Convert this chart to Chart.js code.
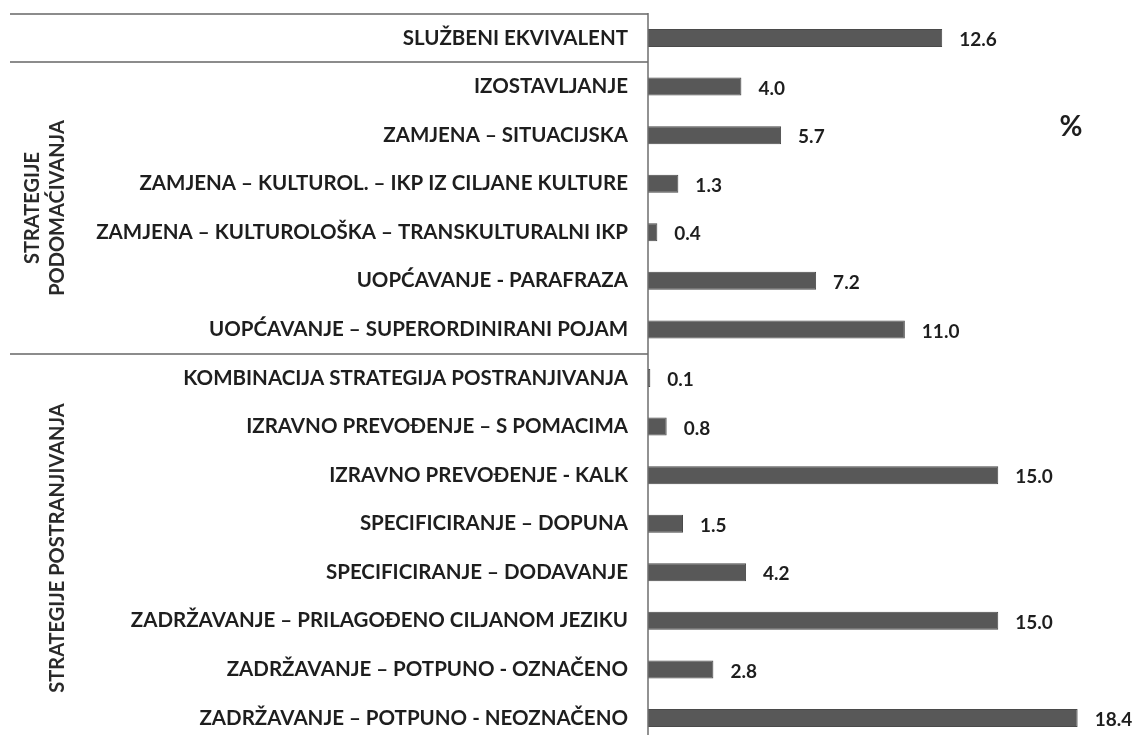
<!DOCTYPE html>
<html>
<head>
<meta charset="utf-8">
<script src="https://cdn.jsdelivr.net/npm/chart.js@4.4.1/dist/chart.umd.min.js"></script>
<style>
  html, body { margin: 0; padding: 0; background: #fff; }
  #wrap { width: 1137px; height: 735px; position: relative; }
</style>
</head>
<body>
<div id="wrap"><canvas id="stratChart"></canvas></div>
<script>
const categories = [
    'SLUŽBENI EKVIVALENT',
    'IZOSTAVLJANJE',
    'ZAMJENA – SITUACIJSKA',
    'ZAMJENA – KULTUROL. – IKP IZ CILJANE KULTURE',
    'ZAMJENA – KULTUROLOŠKA – TRANSKULTURALNI IKP',
    'UOPĆAVANJE - PARAFRAZA',
    'UOPĆAVANJE – SUPERORDINIRANI POJAM',
    'KOMBINACIJA STRATEGIJA POSTRANJIVANJA',
    'IZRAVNO PREVOĐENJE – S POMACIMA',
    'IZRAVNO PREVOĐENJE - KALK',
    'SPECIFICIRANJE – DOPUNA',
    'SPECIFICIRANJE – DODAVANJE',
    'ZADRŽAVANJE – PRILAGOĐENO CILJANOM JEZIKU',
    'ZADRŽAVANJE – POTPUNO - OZNAČENO',
    'ZADRŽAVANJE – POTPUNO - NEOZNAČENO'
];
const percentages = [12.6, 4.0, 5.7, 1.3, 0.4, 7.2, 11.0, 0.1, 0.8, 15.0, 1.5, 4.2, 15.0, 2.8, 18.4];

// groups: first/last category index, label lines
const groupNames = [
    { from: 1, to: 6, lines: ['STRATEGIJE', 'PODOMAĆIVANJA'] },
    { from: 7, to: 14, lines: ['STRATEGIJE POSTRANJIVANJA'] }
];
const unitLabel = '%';

const FONT = 'Lato, "Open Sans", sans-serif';

const decorations = {
    id: 'decorations',
    afterDatasetsDraw(chart) {
        const ctx = chart.ctx;
        const y = chart.scales.y;
        const area = chart.chartArea;
        const step = y.getPixelForValue(1) - y.getPixelForValue(0);
        const edge = i => y.getPixelForValue(i) - step / 2;

        ctx.save();
        // separator lines
        ctx.strokeStyle = '#8c8c8c';
        ctx.lineWidth = 2;
        [0, 1, 7].forEach(i => {
            const py = Math.round(edge(i));
            ctx.beginPath();
            ctx.moveTo(10, py);
            ctx.lineTo(area.left, py);
            ctx.stroke();
        });
        // vertical axis line
        ctx.strokeStyle = '#6e6e6e';
        ctx.lineWidth = 1.5;
        ctx.beginPath();
        ctx.moveTo(area.left, Math.round(edge(0)) - 1);
        ctx.lineTo(area.left, chart.height);
        ctx.stroke();

        // value labels
        ctx.fillStyle = '#1e1e1e';
        ctx.font = 'bold 19px ' + FONT;
        ctx.textBaseline = 'middle';
        ctx.textAlign = 'left';
        chart.getDatasetMeta(0).data.forEach((bar, i) => {
            ctx.fillText(percentages[i].toFixed(1), bar.x + 17, bar.y + 2);
        });

        // group labels, rotated
        ctx.fillStyle = '#2a2a2a';
        ctx.font = 'bold 20px ' + FONT;
        ctx.textAlign = 'center';
        groupNames.forEach(g => {
            const cy = (edge(g.from) + edge(g.to + 1)) / 2;
            const n = g.lines.length;
            g.lines.forEach((line, k) => {
                const cx = 58 - (n - 1 - k) * 25;
                ctx.save();
                ctx.translate(cx, cy);
                ctx.rotate(-Math.PI / 2);
                ctx.fillText(line, 0, 0);
                ctx.restore();
            });
        });

        // unit
        ctx.fillStyle = '#1e1e1e';
        ctx.font = 'bold 28px ' + FONT;
        ctx.fillText(unitLabel, 1071, 127);
        ctx.restore();
    }
};

const ctx = document.getElementById('stratChart').getContext('2d');
new Chart(ctx, {
    type: 'bar',
    data: {
        labels: categories,
        datasets: [{
            data: percentages,
            backgroundColor: '#585858',
            borderColor: '#4a4a4a',
            borderWidth: 1,
            categoryPercentage: 1,
            barPercentage: 0.37,
            clip: false
        }]
    },
    options: {
        indexAxis: 'y',
        responsive: true,
        maintainAspectRatio: false,
        animation: false,
        layout: { padding: { left: 0, right: 22, top: 38, bottom: 17 } },
        scales: {
            x: {
                display: false,
                min: 0,
                max: 20
            },
            y: {
                offset: false,
                grid: { display: false },
                border: { display: false },
                ticks: {
                    padding: 12,
                    color: '#1e1e1e',
                    font: { family: FONT, size: 20.5, weight: 'bold' }
                },
                afterFit(scale) {
                    scale.width = 648;
                    scale.paddingTop = 0;
                    scale.paddingBottom = 0;
                }
            }
        },
        plugins: {
            legend: { display: false },
            tooltip: { enabled: false }
        }
    },
    plugins: [decorations]
});
</script>
</body>
</html>
